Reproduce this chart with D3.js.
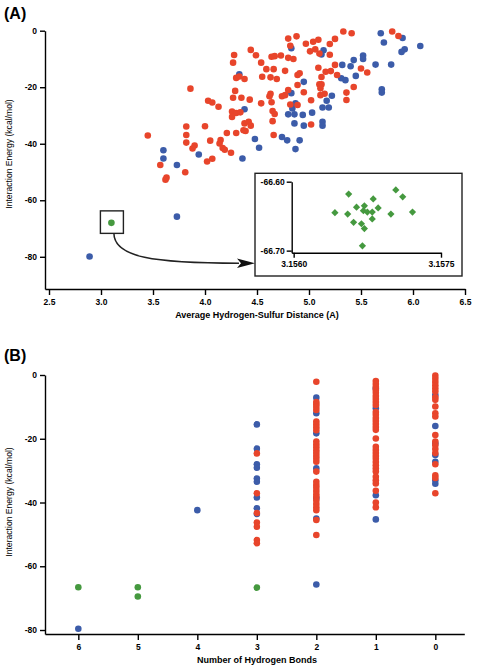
<!DOCTYPE html>
<html><head><meta charset="utf-8">
<script src="https://cdn.jsdelivr.net/npm/d3@7"></script>
<style>
html,body{margin:0;padding:0;background:#fff;}
svg{display:block;font-family:"Liberation Sans",Arial,Helvetica,sans-serif;}
</style></head>
<body><svg id="c" width="477" height="669"></svg>
<script>
// ---------- Panel A data: [average H–S distance (Å), interaction energy (kcal/mol)]
const redA = [[3.45,-37.1],[3.57,-47.5],[3.63,-52.0],[3.62,-52.7],[3.81,-50.1],[3.82,-33.9],[3.82,-36.9],[3.82,-39.6],
[3.86,-20.5],[3.90,-40.6],[3.88,-41.7],[4.00,-33.8],[4.02,-46.3],[4.07,-45.3],[4.03,-24.8],[4.07,-25.4],[4.13,-26.9],
[4.05,-38.9],[4.15,-38.7],[4.14,-39.9],[4.17,-41.5],[4.19,-42.1],[4.25,-43.2],[4.21,-36.2],[4.30,-36.2],[4.28,-8.6],
[4.27,-11.3],[4.30,-16.7],[4.33,-16.2],[4.38,-17.1],[4.29,-21.3],[4.27,-23.7],[4.35,-23.7],[4.43,-24.4],[4.26,-28.6],
[4.30,-29.1],[4.34,-28.9],[4.26,-30.5],[4.38,-32.8],[4.42,-32.2],[4.39,-35.5],[4.37,-35.2],[4.44,-33.6],[4.44,-6.8],
[4.49,-8.7],[4.54,-11.3],[4.59,-13.6],[4.66,-13.6],[4.77,-14.2],[4.64,-9.2],[4.67,-9.0],[4.73,-8.8],[4.80,-2.8],
[4.88,-2.0],[4.82,-5.3],[4.97,-4.6],[5.04,-3.9],[5.09,-3.2],[5.25,-2.9],[5.20,-4.7],[5.33,-0.3],[5.41,-0.9],[4.80,-9.6],
[4.85,-10.0],[5.01,-7.3],[5.06,-6.6],[5.10,-8.1],[5.20,-8.5],[4.89,-15.7],[4.91,-15.1],[5.09,-13.1],[5.16,-14.5],
[5.21,-14.3],[5.25,-12.1],[5.27,-15.7],[5.50,-13.4],[5.56,-14.8],[4.55,-16.3],[4.63,-16.5],[4.69,-17.1],[5.10,-19.0],
[5.12,-19.0],[5.12,-16.4],[4.89,-19.2],[5.43,-19.9],[5.36,-21.9],[5.36,-24.5],[4.80,-21.0],[4.77,-22.8],[4.74,-23.2],
[4.63,-22.3],[4.62,-23.2],[4.95,-21.8],[5.15,-22.3],[5.11,-22.8],[5.11,-20.4],[4.54,-25.7],[4.64,-25.3],[4.65,-28.4],
[4.67,-29.5],[4.65,-32.0],[4.82,-26.1],[4.89,-26.3],[5.02,-24.6],[5.02,-33.2],[4.66,-36.9],[5.80,-0.3],[5.86,-1.9]];
const blueA = [[2.89,-79.9],[3.73,-65.8],[3.60,-42.3],[3.60,-45.2],[3.73,-47.5],[3.94,-43.8],[4.33,-15.4],[4.38,-27.8],
[4.36,-45.2],[4.48,-38.3],[4.52,-41.4],[4.74,-37.6],[4.79,-38.8],[4.91,-38.8],[4.87,-41.9],[4.80,-29.6],[4.86,-29.6],
[4.94,-29.8],[5.03,-29.0],[4.86,-32.8],[4.95,-33.6],[5.13,-32.2],[5.13,-33.6],[4.83,-22.1],[4.87,-25.7],[4.84,-27.5],
[5.22,-23.0],[5.17,-24.8],[5.13,-27.2],[5.19,-27.2],[4.95,-18.1],[4.83,-6.2],[5.14,-6.9],[5.12,-8.4],[5.32,-12.1],
[5.40,-12.6],[5.43,-10.4],[5.31,-16.8],[5.35,-17.5],[5.45,-16.0],[5.52,-8.8],[5.52,-10.0],[5.64,-12.0],[5.79,-12.0],
[5.69,-0.9],[5.72,-4.2],[5.90,-2.6],[6.07,-5.4],[5.92,-6.6],[5.89,-7.5],[5.70,-20.7],[5.70,-21.9]];
const greenA = [[3.10,-68.0]];
// Inset (zoom of the boxed green point)
const insetGreen = [[3.15642,-66.645],[3.15655,-66.647],[3.15656,-66.618],[3.15664,-66.637],[3.15672,-66.635],
[3.15671,-66.642],[3.15675,-66.644],[3.15681,-66.625],[3.15686,-66.638],[3.15680,-66.644],[3.15680,-66.654],
[3.15661,-66.659],[3.15669,-66.661],[3.15672,-66.668],[3.15670,-66.693],[3.15699,-66.647],[3.15704,-66.612],
[3.15711,-66.622],[3.15721,-66.644]];

// ---------- Panel B data: [number of hydrogen bonds, interaction energy]
const redB = [
[3,-24.6],[3,-37.1],[3,-43.3],[3,-46.3],[3,-47.6],[3,-51.8],[3,-52.8],
[2,-2.1],[2,-8.5],[2,-9.2],[2,-10.0],[2,-11.0],[2,-14.6],[2,-15.5],[2,-16.4],[2,-17.3],[2,-20.9],[2,-21.8],[2,-22.7],
[2,-23.6],[2,-24.5],[2,-25.4],[2,-26.3],[2,-27.2],[2,-30.3],[2,-33.5],[2,-34.5],[2,-35.4],[2,-36.4],[2,-37.4],[2,-38.3],
[2,-39.4],[2,-40.5],[2,-41.5],[2,-42.4],[2,-45.5],[2,-50.2],
[1,-1.9],[1,-2.8],[1,-3.8],[1,-4.7],[1,-5.6],[1,-6.6],[1,-7.5],[1,-8.5],[1,-9.4],[1,-11.6],[1,-12.5],[1,-13.5],[1,-14.4],
[1,-15.4],[1,-16.3],[1,-17.2],[1,-19.9],[1,-22.5],[1,-23.5],[1,-24.5],[1,-25.4],[1,-26.3],[1,-27.3],[1,-28.3],[1,-29.3],
[1,-30.3],[1,-31.9],[1,-33.0],[1,-34.0],[1,-36.3],[1,-40.0],[1,-41.5],
[0,-0.2],[0,-1.2],[0,-2.2],[0,-3.2],[0,-4.2],[0,-5.2],[0,-7.0],[0,-7.8],[0,-9.9],[0,-12.0],[0,-13.0],[0,-18.8],[0,-20.9],
[0,-22.0],[0,-23.2],[0,-24.5],[0,-28.0],[0,-31.5],[0,-32.3],[0,-37.1]];
const blueB = [[6,-79.6],[4,-42.4],
[3,-15.5],[3,-23.1],[3,-28.0],[3,-29.1],[3,-32.5],[3,-33.5],[3,-38.4],[3,-41.8],[3,-43.6],
[2,-7.1],[2,-12.0],[2,-18.3],[2,-29.3],[2,-38.6],[2,-45.0],[2,-65.7],
[1,-4.2],[1,-10.4],[1,-37.7],[1,-45.3],
[0,-6.3],[0,-16.0],[0,-21.5],[0,-25.1],[0,-27.2],[0,-33.0],[0,-34.1]];
const greenB = [[6,-66.6],[5,-66.6],[5,-69.5],[3,-66.7]];

// ---------- Tick values
const xTicksA = [2.5,3.0,3.5,4.0,4.5,5.0,5.5,6.0,6.5];
const yTicksA = [0,-20,-40,-60,-80];
const xTicksInset = [3.1560,3.1575];
const yTicksInset = [-66.60,-66.70];
const xTicksB = [6,5,4,3,2,1,0];
const yTicksB = [0,-20,-40,-60,-80];

const RED = "#e8452b", BLUE = "#3c5ca9", GREEN = "#45993f";
const svg = d3.select("#c");
const tickFont = {"font-size":"8.5px","font-weight":"bold"};

function styleAxis(g, fs){
  g.select(".domain").attr("stroke","#000").attr("stroke-width",1.4);
  g.selectAll(".tick line").attr("stroke","#000").attr("stroke-width",1.4);
  g.selectAll(".tick text").attr("fill","#000").style("font-size",fs||"8.5px").style("font-weight","bold")
   .style("font-family",'"Liberation Sans",Arial,sans-serif');
}
function dots(g, data, x, y, color, r){
  g.selectAll(null).data(data).enter().append("circle")
    .attr("cx",d=>x(d[0])).attr("cy",d=>y(d[1])).attr("r",r).attr("fill",color);
}

// ================= Panel A =================
const xA = d3.scaleLinear().domain([2.4615,6.5]).range([45,465]);
const yA = d3.scaleLinear().domain([-91.4,0]).range([289,30.7]);

svg.append("text").attr("x",4).attr("y",19).text("(A)")
  .style("font-size","16px").style("font-weight","bold");

const gxA = svg.append("g").attr("transform","translate(0,289)")
  .call(d3.axisBottom(xA).tickValues(xTicksA).tickFormat(d3.format(".1f")).tickSize(6).tickSizeOuter(0).tickPadding(4));
styleAxis(gxA);
const gyA = svg.append("g").attr("transform","translate(45,0)")
  .call(d3.axisLeft(yA).tickValues(yTicksA).tickFormat(d=>String(d)).tickSize(5).tickSizeOuter(0).tickPadding(3));
styleAxis(gyA);

svg.append("text").attr("x",257).attr("y",318).attr("text-anchor","middle")
  .text("Average Hydrogen-Sulfur Distance (A)").style("font-size","9px").style("font-weight","bold");
svg.append("text").attr("transform","translate(12,154) rotate(-90)").attr("text-anchor","middle")
  .text("Interaction Energy (kcal/mol)").style("font-size","8.6px");

const pA = svg.append("g");
dots(pA, blueA, xA, yA, BLUE, 3.3);
dots(pA, redA, xA, yA, RED, 3.3);
dots(pA, greenA, xA, yA, GREEN, 3.3);

// small box around the green point + arrow to inset
const gx = xA(greenA[0][0]), gy = yA(greenA[0][1]);
svg.append("rect").attr("x",gx-11).attr("y",gy-12).attr("width",23).attr("height",22.5)
  .attr("fill","none").attr("stroke","#222").attr("stroke-width",1.4);

const inset = {x0:255, y0:173.3, x1:462, y1:276};
const ay = 263.3, sx = gx+2.5, sy = gy+10.5;
svg.append("path")
  .attr("d",`M${sx},${sy} C${sx},${sy+24} ${sx+40},${ay} ${inset.x0-16},${ay}`)
  .attr("fill","none").attr("stroke","#222").attr("stroke-width",1.5);
svg.append("path")
  .attr("d",`M${inset.x0},${ay} L${inset.x0-18},${ay-4.8} L${inset.x0-14},${ay} L${inset.x0-18},${ay+4.8} Z`)
  .attr("fill","#111");

// inset
svg.append("rect").attr("x",inset.x0).attr("y",inset.y0).attr("width",inset.x1-inset.x0).attr("height",inset.y1-inset.y0)
  .attr("fill","#fff").attr("stroke","#222").attr("stroke-width",1.4);
const xI = d3.scaleLinear().domain([3.15598,3.15750]).range([291.7,441]);
const yI = d3.scaleLinear().domain([-66.703,-66.60]).range([252.7,181.7]);
const gxI = svg.append("g").attr("transform","translate(0,252.7)")
  .call(d3.axisBottom(xI).tickValues(xTicksInset).tickFormat(d=>d.toFixed(4)).tickSize(5).tickSizeOuter(0).tickPadding(3));
styleAxis(gxI,"8.5px");
const gyI = svg.append("g").attr("transform","translate(291.7,0)")
  .call(d3.axisLeft(yI).tickValues(yTicksInset).tickFormat(d=>d.toFixed(2)).tickSize(5).tickSizeOuter(0).tickPadding(2));
styleAxis(gyI,"8.5px");
svg.append("g").selectAll(null).data(insetGreen).enter().append("path")
  .attr("d",d3.symbol().type(d3.symbolSquare).size(26))
  .attr("transform",d=>`translate(${xI(d[0])},${yI(d[1])}) rotate(45)`)
  .attr("fill",GREEN);

// ================= Panel B =================
const xB = d3.scaleLinear().domain([6.56,-0.487]).range([45,464.3]);
const yB = d3.scaleLinear().domain([-81.25,0]).range([634,375]);

svg.append("text").attr("x",4).attr("y",361).text("(B)")
  .style("font-size","16px").style("font-weight","bold");

const gxB = svg.append("g").attr("transform","translate(0,634)")
  .call(d3.axisBottom(xB).tickValues(xTicksB).tickFormat(d=>String(d)).tickSize(6).tickSizeOuter(0).tickPadding(4));
styleAxis(gxB);
const gyB = svg.append("g").attr("transform","translate(45,0)")
  .call(d3.axisLeft(yB).tickValues(yTicksB).tickFormat(d=>String(d)).tickSize(5).tickSizeOuter(0).tickPadding(3));
styleAxis(gyB);

svg.append("text").attr("x",257).attr("y",662.5).attr("text-anchor","middle")
  .text("Number of Hydrogen Bonds").style("font-size","9px").style("font-weight","bold");
svg.append("text").attr("transform","translate(12,502) rotate(-90)").attr("text-anchor","middle")
  .text("Interaction Energy (kcal/mol)").style("font-size","8.6px");

const pB = svg.append("g");
dots(pB, blueB, xB, yB, BLUE, 3.3);
dots(pB, redB, xB, yB, RED, 3.3);
dots(pB, greenB, xB, yB, GREEN, 3.3);
</script></body></html>
